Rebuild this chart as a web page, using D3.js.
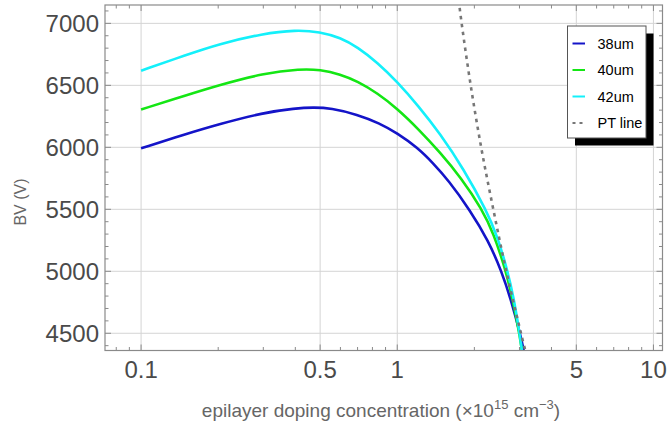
<!DOCTYPE html>
<html><head><meta charset="utf-8">
<script src="https://cdn.jsdelivr.net/npm/d3@7"></script>
<style>body{margin:0;background:#fff}svg{display:block}text{font-family:"Liberation Sans",Arial,sans-serif}</style>
</head><body><svg id="c" width="667" height="428"></svg>
<script>
// ---- data ----
const series = ["38um", "40um", "42um", "PT line"];
const colors = ["#1414c8", "#14e614", "#14f0fa", "#777777"];
const dop38 = [0.1, 0.15, 0.2, 0.3, 0.4, 0.47, 0.55, 0.7, 0.85, 1.0, 1.2, 1.379, 1.582, 1.922, 2.267, 2.553, 2.797, 3.014, 3.124, 3.18];
const bv38  = [5992, 6108, 6185, 6280, 6314, 6323, 6316, 6264, 6195, 6114, 5997, 5873, 5735, 5494, 5247, 5002, 4752, 4500, 4355, 4268];
const dop40 = [0.1, 0.15, 0.2, 0.3, 0.42, 0.5, 0.6, 0.7, 0.837, 1.0, 1.21, 1.468, 1.774, 2.141, 2.375, 2.634, 2.83, 3.014, 3.124];
const bv40  = [6305, 6420, 6500, 6597, 6633, 6626, 6589, 6532, 6437, 6312, 6147, 5960, 5755, 5503, 5306, 5028, 4767, 4473, 4242];
const dop42 = [0.1, 0.15, 0.2, 0.3, 0.4, 0.5, 0.6, 0.7, 0.837, 1.0, 1.21, 1.468, 1.814, 2.24, 2.451, 2.689, 2.856, 3.014, 3.124];
const bv42  = [6618, 6745, 6832, 6918, 6947, 6932, 6884, 6808, 6683, 6528, 6333, 6111, 5827, 5482, 5288, 5014, 4776, 4485, 4228];
const dopPT = [1.737, 1.784, 1.935, 2.126, 2.371, 2.665, 3.041, 3.216];
const bvPT  = [7188, 7000, 6500, 6000, 5500, 5000, 4500, 4300];
const xTicks = [0.1, 0.5, 1, 5, 10];
const xTickLabels = ["0.1", "0.5", "1", "5", "10"];
const xMinor = [0.08, 0.09, 0.2, 0.3, 0.4, 0.6, 0.7, 0.8, 0.9, 2, 3, 4, 6, 7, 8, 9];
const yTicks = [4500, 5000, 5500, 6000, 6500, 7000];
const yMinor = d3.range(4400, 7101, 100).filter(v => v % 500 !== 0);

// ---- layout ----
const L = 105, R = 662.5, T = 5, B = 350.5;
const svg = d3.select("#c");
const x = d3.scaleLog().domain([0.0723, 10.85]).range([L, R]);
const y = d3.scaleLinear().domain([4361, 7148]).range([B, T]);
const frameCol = "#8a8a8a";

// grid
const g = svg.append("g");
g.selectAll(".gx").data(xTicks).enter().append("line")
  .attr("x1", d => x(d)).attr("x2", d => x(d)).attr("y1", T).attr("y2", B)
  .attr("stroke", "#d4d4d4").attr("stroke-width", 1);
g.selectAll(".gy").data(yTicks).enter().append("line")
  .attr("y1", d => y(d)).attr("y2", d => y(d)).attr("x1", L).attr("x2", R)
  .attr("stroke", "#d4d4d4").attr("stroke-width", 1);

// clip
svg.append("clipPath").attr("id", "clip").append("rect")
  .attr("x", L).attr("y", T).attr("width", R - L).attr("height", B - T);

const smooth = d3.line().x(d => x(d[0])).y(d => y(d[1])).curve(d3.curveBasis);
const straightish = d3.line().x(d => x(d[0])).y(d => y(d[1])).curve(d3.curveCatmullRom.alpha(0.5));
const data = [d3.zip(dop38, bv38), d3.zip(dop40, bv40), d3.zip(dop42, bv42), d3.zip(dopPT, bvPT)];
const plot = svg.append("g").attr("clip-path", "url(#clip)");
data.forEach((d, i) => {
  plot.append("path").attr("d", i === 3 ? straightish(d) : smooth(d)).attr("fill", "none")
    .attr("stroke", colors[i]).attr("stroke-width", 2.6)
    .attr("stroke-dasharray", i === 3 ? "3.5,4.5" : null);
});

// frame
svg.append("rect").attr("x", L).attr("y", T).attr("width", R - L).attr("height", B - T)
  .attr("fill", "none").attr("stroke", frameCol).attr("stroke-width", 1.2);

// ticks
const tk = svg.append("g").attr("stroke", frameCol).attr("stroke-width", 1);
const xt = xTicks.map(v => [v, 6]).concat(xMinor.map(v => [v, 3.5])).filter(d => x(d[0]) > L && x(d[0]) < R);
xt.forEach(([v, len]) => {
  tk.append("line").attr("x1", x(v)).attr("x2", x(v)).attr("y1", B).attr("y2", B - len);
  tk.append("line").attr("x1", x(v)).attr("x2", x(v)).attr("y1", T).attr("y2", T + len);
});
const yt = yTicks.map(v => [v, 6]).concat(yMinor.map(v => [v, 3.5]));
yt.forEach(([v, len]) => {
  tk.append("line").attr("y1", y(v)).attr("y2", y(v)).attr("x1", L).attr("x2", L + len);
  tk.append("line").attr("y1", y(v)).attr("y2", y(v)).attr("x1", R).attr("x2", R - len);
});

// tick labels
svg.selectAll(".xl").data(xTicks).enter().append("text")
  .attr("x", d => x(d)).attr("y", 378).attr("text-anchor", "middle")
  .attr("font-size", 24).attr("fill", "#4a4a4a").text((d, i) => xTickLabels[i]);
svg.selectAll(".yl").data(yTicks).enter().append("text")
  .attr("x", 99).attr("y", d => y(d) + 8.5).attr("text-anchor", "end")
  .attr("font-size", 24).attr("fill", "#4a4a4a").text(d => d);

// axis labels
const xl = svg.append("text").attr("x", 381).attr("y", 417).attr("text-anchor", "middle")
  .attr("font-size", 19).attr("fill", "#666");
xl.append("tspan").text("epilayer doping concentration (×10");
xl.append("tspan").attr("font-size", 13).attr("dy", -8).text("15");
xl.append("tspan").attr("dy", 8).text(" cm");
xl.append("tspan").attr("font-size", 13).attr("dy", -8).text("−3");
xl.append("tspan").attr("dy", 8).text(")");
svg.append("text").attr("transform", "translate(26,202) rotate(-90)").attr("text-anchor", "middle")
  .attr("font-size", 16).attr("fill", "#666").text("BV (V)");

// legend
const lx = 567.5, ly = 26, lw = 78.5, lh = 112;
svg.append("rect").attr("x", lx + 7.5).attr("y", ly + 7.5).attr("width", lw).attr("height", lh).attr("fill", "#000");
svg.append("rect").attr("x", lx).attr("y", ly).attr("width", lw).attr("height", lh)
  .attr("fill", "#fff").attr("stroke", "#555").attr("stroke-width", 1);
series.forEach((s, i) => {
  const yy = ly + 17.5 + i * 26.5;
  svg.append("line").attr("x1", lx + 5).attr("x2", lx + 17.5).attr("y1", yy).attr("y2", yy)
    .attr("stroke", colors[i]).attr("stroke-width", 2).attr("stroke-dasharray", i === 3 ? "3,4" : null);
  svg.append("text").attr("x", lx + 30).attr("y", yy + 5).attr("font-size", 14.5).attr("fill", "#000").text(s);
});
</script></body></html>
